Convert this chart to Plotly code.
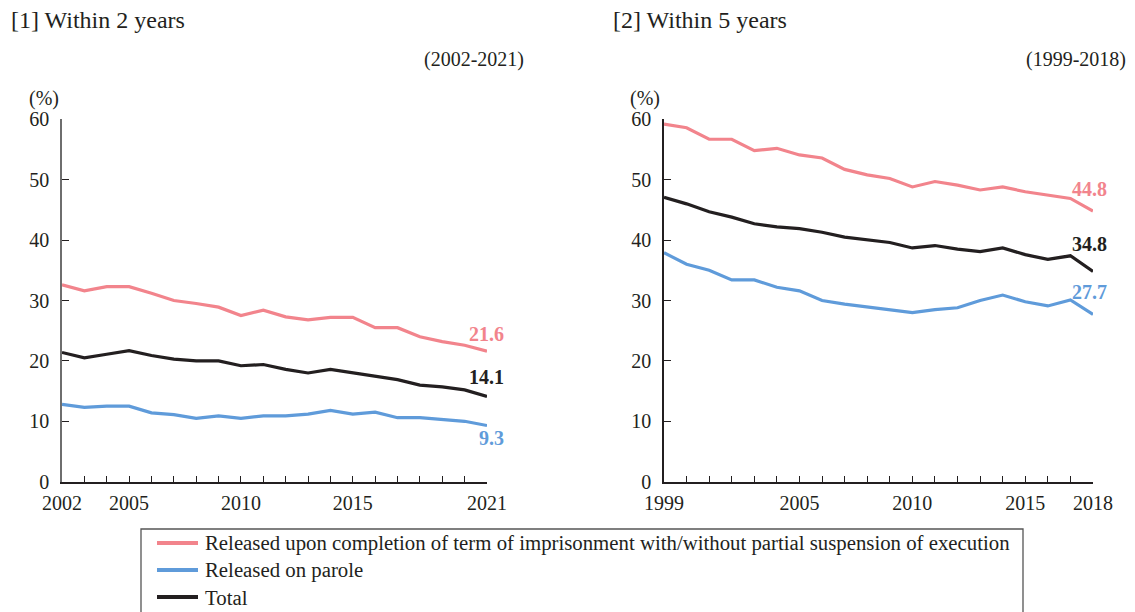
import plotly.graph_objects as go

# ---- data ----
years_2y = list(range(2002, 2022))
completion_2y = [32.6, 31.6, 32.3, 32.3, 31.2, 30.0, 29.5, 28.9, 27.5, 28.4,
                 27.3, 26.8, 27.2, 27.2, 25.5, 25.5, 24.0, 23.2, 22.6, 21.6]
parole_2y = [12.8, 12.3, 12.5, 12.5, 11.4, 11.1, 10.5, 10.9, 10.5, 10.9,
             10.9, 11.2, 11.8, 11.2, 11.5, 10.6, 10.6, 10.3, 10.0, 9.3]
total_2y = [21.4, 20.5, 21.1, 21.7, 20.9, 20.3, 20.0, 20.0, 19.2, 19.4,
            18.6, 18.0, 18.6, 18.0, 17.5, 16.9, 16.0, 15.7, 15.2, 14.1]

years_5y = list(range(1999, 2019))
completion_5y = [59.2, 58.6, 56.7, 56.7, 54.8, 55.2, 54.1, 53.6, 51.7, 50.8,
                 50.2, 48.8, 49.7, 49.1, 48.3, 48.8, 48.0, 47.5, 46.9, 44.8]
parole_5y = [37.9, 36.0, 35.0, 33.4, 33.4, 32.2, 31.6, 30.0, 29.4, 28.9,
             28.5, 28.0, 28.5, 28.8, 30.0, 30.9, 29.8, 29.1, 30.1, 27.7]
total_5y = [47.1, 46.0, 44.7, 43.8, 42.7, 42.2, 41.9, 41.3, 40.5, 40.0,
            39.6, 38.7, 39.1, 38.5, 38.1, 38.7, 37.6, 36.8, 37.4, 34.8]

xlabels_2y = [2002, 2005, 2010, 2015, 2021]
xlabels_5y = [1999, 2005, 2010, 2015, 2018]
long_ticks_2y = [2005, 2010, 2015, 2020]
long_ticks_5y = [2000, 2005, 2010, 2015]
ytick = [0, 10, 20, 30, 40, 50, 60]

series_names = [
    "Released upon completion of term of imprisonment with/without partial suspension of execution",
    "Released on parole",
    "Total",
]
colors = ["#F2848C", "#5F9BDA", "#231F20"]

FONT = "Liberation Serif"
INK = "#231F20"
W, H = 1135, 612


def px_x(v):
    return v / W


def px_y(v):
    return 1 - v / H


fig = go.Figure()

panels = [
    (years_2y, [completion_2y, parole_2y, total_2y], "x", "y"),
    (years_5y, [completion_5y, parole_5y, total_5y], "x2", "y2"),
]
for yrs, vals, xa, ya in panels:
    for i, v in enumerate(vals):
        fig.add_trace(go.Scatter(
            x=yrs, y=v, mode="lines", name=series_names[i],
            line=dict(color=colors[i], width=3.2),
            xaxis=xa, yaxis=ya, showlegend=False,
        ))


# value labels at the last year of each series
def end_labels(yrs, vals, xa, ya, xshift, yshifts):
    for i, v in enumerate(vals):
        fig.add_annotation(
            x=yrs[-1], y=v[-1], xref=xa, yref=ya, text="<b>%.1f</b>" % v[-1],
            showarrow=False, xanchor="right", yanchor="middle",
            xshift=xshift, yshift=yshifts[i],
            font=dict(family=FONT, size=20, color=colors[i]),
        )


end_labels(years_2y, [completion_2y, parole_2y, total_2y], "x", "y", 19, [17, -12, 20])
end_labels(years_5y, [completion_5y, parole_5y, total_5y], "x2", "y2", 16, [22, 22, 28])

y_dom = [px_y(481.7), px_y(119.3)]
dom_1 = [px_x(62), px_x(487)]
dom_2 = [px_x(664), px_x(1093)]

tickfont = dict(family=FONT, size=20, color=INK)


def x_axis(domain, rng, labels, anchor, linecolor=INK):
    return dict(
        domain=domain, range=rng, anchor=anchor,
        showgrid=False, zeroline=False, showline=True,
        linecolor=linecolor, linewidth=1.5,
        ticks="inside", ticklen=6, tickwidth=1.2, tickcolor=INK,
        tickvals=labels, tickfont=tickfont, ticklabelstandoff=3,
        minor=dict(ticks="inside", dtick=1, tick0=rng[0], ticklen=6,
                   tickcolor=INK, tickwidth=1.2),
    )


def long_tick_axis(over, rng, vals, anchor, domain):
    return dict(
        overlaying=over, domain=domain, range=rng, anchor=anchor,
        showgrid=False, zeroline=False, showline=False,
        ticks="inside", ticklen=10, tickwidth=1.4, tickcolor=INK,
        tickvals=vals, showticklabels=False,
    )


def y_axis(anchor, linecolor):
    return dict(
        domain=y_dom, range=[0, 60], anchor=anchor,
        showgrid=False, zeroline=False, showline=True,
        linecolor=linecolor, linewidth=1.5,
        ticks="inside", ticklen=7, tickwidth=1.2, tickcolor=INK,
        tickvals=ytick, tickfont=tickfont, ticklabelstandoff=7,
    )


fig.update_layout(
    width=W, height=H,
    margin=dict(l=0, r=0, t=0, b=0, autoexpand=False),
    paper_bgcolor="white", plot_bgcolor="rgba(0,0,0,0)",
    font=dict(family=FONT, color=INK),
    showlegend=False,
    xaxis=x_axis(dom_1, [2002, 2021], xlabels_2y, "y"),
    yaxis=y_axis("x", "#6E6E6E"),
    xaxis2=x_axis(dom_2, [1999, 2018], xlabels_5y, "y2"),
    yaxis2=y_axis("x2", INK),
    xaxis3=long_tick_axis("x", [2002, 2021], long_ticks_2y, "y", dom_1),
    xaxis4=long_tick_axis("x2", [1999, 2018], long_ticks_5y, "y2", dom_2),
)

# headings and unit captions
texts = [
    ("[1] Within 2 years", 9, 20, "left", 24),
    ("[2] Within 5 years", 611, 20, "left", 24),
    ("(2002-2021)", 526, 60, "right", 20),
    ("(1999-2018)", 1128, 60, "right", 20),
    ("(%)", 44, 99, "center", 20),
    ("(%)", 645, 99, "center", 20),
]
for t, x, y, anc, sz in texts:
    fig.add_annotation(
        text=t, x=px_x(x), y=px_y(y), xref="paper", yref="paper",
        showarrow=False, xanchor=anc, yanchor="middle",
        font=dict(family=FONT, size=sz, color=INK),
    )

# series key below the panels
key_box = dict(x0=141, x1=1023, y0=529, y1=640)
key_rows = [543, 570, 597]
fig.add_shape(
    type="rect", xref="paper", yref="paper",
    x0=px_x(key_box["x0"]), x1=px_x(key_box["x1"]),
    y0=px_y(key_box["y1"]), y1=px_y(key_box["y0"]),
    line=dict(color="#555555", width=1.3), fillcolor="rgba(0,0,0,0)",
)
for i, name in enumerate(series_names):
    yy = px_y(key_rows[i])
    fig.add_shape(
        type="line", xref="paper", yref="paper",
        x0=px_x(157), x1=px_x(198), y0=yy, y1=yy,
        line=dict(color=colors[i], width=4),
    )
    fig.add_annotation(
        text=name, x=px_x(203), y=yy, xref="paper", yref="paper",
        showarrow=False, xanchor="left", yanchor="middle",
        font=dict(family=FONT, size=20.8, color=INK),
    )

fig.write_html("out.html")
